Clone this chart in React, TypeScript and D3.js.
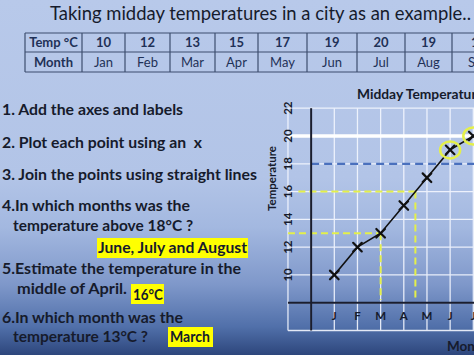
import React from 'react';
import * as d3 from 'd3';

const months = ['Jan', 'Feb', 'Mar', 'Apr', 'May', 'Jun', 'Jul', 'Aug', 'Sep'];
const monthInitials = ['J', 'F', 'M', 'A', 'M', 'J', 'J', 'A', 'S'];
const temps = [10, 12, 13, 15, 17, 19, 20, 19, 17];
const yTicks = [10, 12, 14, 16, 18, 20, 22];
const circledMonths = [5, 6];

const W = 474;
const H = 355;
const FONT = 'Lato, "Open Sans", sans-serif';
const INK = '#161b2c';
const NAVY = '#1f3157';

export default function App() {
  const x = d3.scaleLinear().domain([0, 6]).range([334.3, 473.3]);
  const y = d3.scaleLinear().domain([6, 22]).range([330.5, 108.2]);
  const line = d3
    .line<number>()
    .x((_, i) => x(i))
    .y((d) => y(d));

  const gridX = d3.range(-2, 10);
  const gridY = d3.range(6, 23, 2);

  // table layout
  const colEdges = [25, 82, 125, 170, 215, 258, 307, 357, 405, 452, 505];
  const rowTop = 33;
  const rowMid = 52;
  const rowBot = 72;

  const cross = (cx: number, cy: number, k: number) => {
    const s = 4.3;
    return (
      <g key={'c' + k} stroke="#111" strokeWidth={2.2} strokeLinecap="round">
        <line x1={cx - s} y1={cy - s} x2={cx + s} y2={cy + s} />
        <line x1={cx - s} y1={cy + s} x2={cx + s} y2={cy - s} />
      </g>
    );
  };

  return (
    <svg
      width={W}
      height={H}
      viewBox={`0 0 ${W} ${H}`}
      style={{ position: 'absolute', left: 0, top: 0, display: 'block', whiteSpace: 'pre' }}
    >
      <defs>
        <linearGradient id="bg" x1="0" y1="0" x2="0" y2="1">
          <stop offset="0" stopColor="#b8c9ea" />
          <stop offset="0.5" stopColor="#b2c4e7" />
          <stop offset="0.64" stopColor="#a3b8e0" />
          <stop offset="0.8" stopColor="#7f98ca" />
          <stop offset="0.92" stopColor="#5170aa" />
          <stop offset="1" stopColor="#2d467c" />
        </linearGradient>
      </defs>
      <rect x={0} y={0} width={W} height={H} fill="url(#bg)" />

      {/* Title */}
      <text x={50} y={20} fontFamily={FONT} fontSize={20} fill={INK} textLength={421} lengthAdjust="spacingAndGlyphs">
        Taking midday temperatures in a city as an example..
      </text>

      {/* Table */}
      <g fontFamily={FONT} fontSize={13} fill={NAVY}>
        <line x1={colEdges[0]} x2={W} y1={rowTop} y2={rowTop} stroke="#3d4d6e" strokeWidth={1.2} />
        <line x1={colEdges[0]} x2={W} y1={rowMid} y2={rowMid} stroke="#3d4d6e" strokeWidth={1.2} />
        <line x1={colEdges[0]} x2={W} y1={rowBot} y2={rowBot} stroke="#3d4d6e" strokeWidth={1.2} />
        {colEdges.slice(0, -1).map((cx, i) => (
          <line key={'ce' + i} x1={cx} x2={cx} y1={rowTop} y2={rowBot} stroke="#3d4d6e" strokeWidth={1.2} />
        ))}
        <text x={(colEdges[0] + colEdges[1]) / 2} y={rowTop + 13.5} textAnchor="middle" fontWeight="bold">
          Temp °C
        </text>
        <text x={(colEdges[0] + colEdges[1]) / 2} y={rowMid + 14.5} textAnchor="middle" fontWeight="bold">
          Month
        </text>
        {temps.map((t, i) => (
          <text
            key={'tt' + i}
            x={(colEdges[i + 1] + colEdges[i + 2]) / 2}
            y={rowTop + 13.5}
            textAnchor="middle"
            fontWeight="bold"
          >
            {t}
          </text>
        ))}
        {months.map((m, i) => (
          <text key={'tm' + i} x={(colEdges[i + 1] + colEdges[i + 2]) / 2} y={rowMid + 14.5} textAnchor="middle">
            {m}
          </text>
        ))}
      </g>

      {/* Left instructions */}
      <g fontFamily={FONT} fontSize={15.5} fontWeight="bold" fill={INK}>
        <text x={2} y={115} textLength={181} lengthAdjust="spacingAndGlyphs">1. Add the axes and labels</text>
        <text x={2} y={148} textLength={200} lengthAdjust="spacingAndGlyphs" xmlSpace="preserve">{'2. Plot each point using an  x'}</text>
        <text x={2} y={180} textLength={255} lengthAdjust="spacingAndGlyphs">3. Join the points using straight lines</text>
        <text x={2} y={211} textLength={188} lengthAdjust="spacingAndGlyphs">4.In which months was the</text>
        <text x={13} y={231} textLength={180} lengthAdjust="spacingAndGlyphs">temperature above 18°C ?</text>
        <rect x={97} y={238} width={151} height={20} fill="#ffff00" />
        <text x={98} y={253} textLength={149} lengthAdjust="spacingAndGlyphs">June, July and August</text>
        <text x={2} y={274} textLength={239} lengthAdjust="spacingAndGlyphs">5.Estimate the temperature in the</text>
        <text x={17} y={294} textLength={110} lengthAdjust="spacingAndGlyphs">middle of April.</text>
        <rect x={131} y={284} width={33} height={20} fill="#ffff00" />
        <text x={133} y={300} textLength={30} lengthAdjust="spacingAndGlyphs">16°C</text>
        <text x={2} y={323} textLength={181} lengthAdjust="spacingAndGlyphs">6.In which month was the</text>
        <text x={13} y={342} textLength={135} lengthAdjust="spacingAndGlyphs">temperature 13°C ?</text>
        <rect x={168} y={327} width={45} height={20} fill="#ffff00" />
        <text x={170} y={342} textLength={40} lengthAdjust="spacingAndGlyphs">March</text>
      </g>

      {/* Chart grid */}
      <g stroke="#f4f7ff" strokeWidth={1.3} opacity={0.9}>
        {gridX.map((i) => (
          <line key={'gx' + i} x1={x(i)} x2={x(i)} y1={y(22)} y2={y(6)} />
        ))}
        {gridY.map((v) => (
          <line key={'gy' + v} x1={x(-2)} x2={W} y1={y(v)} y2={y(v)} />
        ))}
      </g>
      <line x1={x(-2)} x2={W} y1={y(20)} y2={y(20)} stroke="#ffffff" strokeWidth={3.5} />

      {/* Reading lines */}
      <line x1={x(-1)} x2={W} y1={y(18)} y2={y(18)} stroke="#4a70bd" strokeWidth={2.2} strokeDasharray="8 5" />
      <g stroke="#e4f04a" strokeWidth={2} strokeDasharray="7 4" fill="none">
        <line x1={x(-1.55)} x2={x(3.5)} y1={y(16)} y2={y(16)} />
        <line x1={x(3.5)} x2={x(3.5)} y1={y(16)} y2={y(8.2)} />
        <line x1={x(-2)} x2={x(2)} y1={y(13)} y2={y(13)} />
        <line x1={x(2)} x2={x(2)} y1={y(13)} y2={y(8.2)} />
      </g>

      {/* Axes */}
      <line x1={x(-2)} x2={W} y1={y(8)} y2={y(8)} stroke="#1a1d2e" strokeWidth={2} />
      <line x1={x(-1)} x2={x(-1)} y1={y(22)} y2={y(6)} stroke="#1a1d2e" strokeWidth={2} />

      {/* Data line and crosses */}
      <path d={line(temps) || ''} fill="none" stroke="#111" strokeWidth={1.6} />
      {temps.map((t, i) => cross(x(i), y(t), i))}
      {circledMonths.map((i) => (
        <ellipse key={'ci' + i} cx={x(i)} cy={y(temps[i])} rx={10} ry={8.5} fill="none" stroke="#e4f04a" strokeWidth={2.5} />
      ))}

      {/* Axis labels */}
      <g fontFamily={FONT} fontWeight="bold" fill={INK}>
        {yTicks.map((v) => (
          <text
            key={'yt' + v}
            transform={`translate(${292},${y(v)}) rotate(-90)`}
            textAnchor="middle"
            fontSize={11.5}
          >
            {v}
          </text>
        ))}
        {monthInitials.map((m, i) => (
          <text key={'xm' + i} x={x(i)} y={320} textAnchor="middle" fontSize={11.5}>
            {m}
          </text>
        ))}
        <text transform={`translate(276,178.5) rotate(-90)`} textAnchor="middle" fontSize={11.5}>
          Temperature
        </text>
        <text x={447} y={350.5} fontSize={13.5}>
          Month
        </text>
        <text x={357} y={98.5} fontSize={13.8}>
          Midday Temperatures
        </text>
      </g>
    </svg>
  );
}
